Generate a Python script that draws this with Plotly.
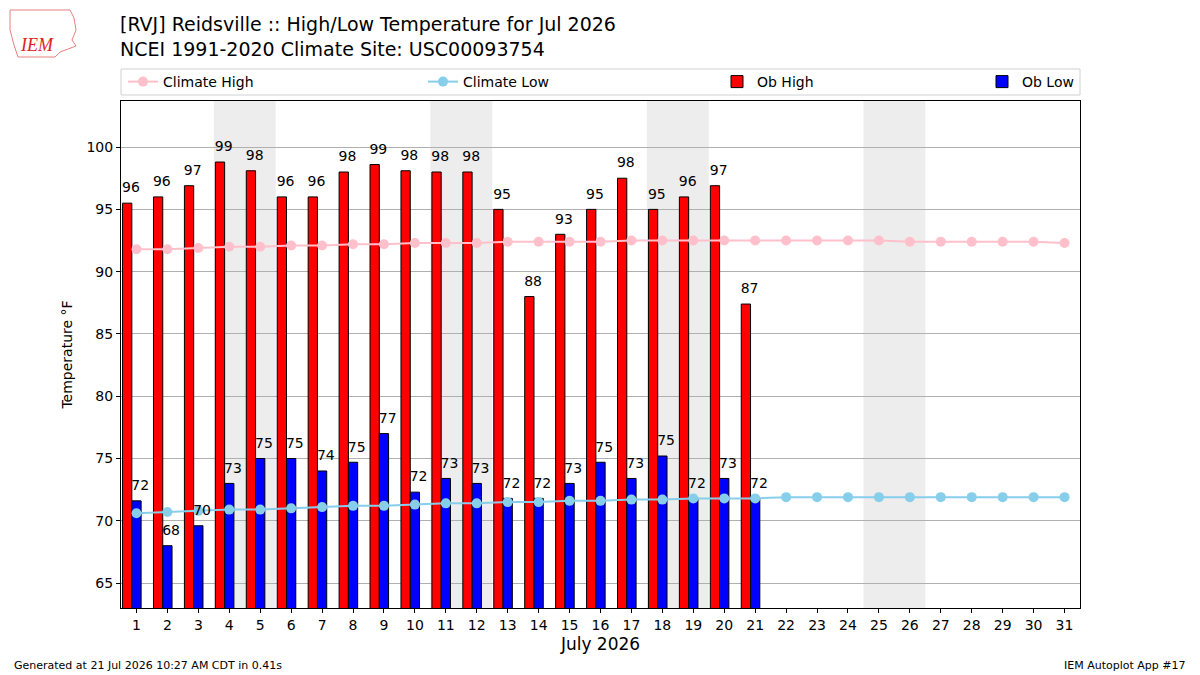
import datetime
import plotly.graph_objects as go

# data
days = list(range(1, 32))
ob_days = list(range(1, 22))
ob_high = [95.5, 96.0, 96.9, 98.8, 98.1, 96.0, 96.0, 98.0, 98.6, 98.1,
           98.0, 98.0, 95.0, 88.0, 93.0, 95.0, 97.5, 95.0, 96.0, 96.9, 87.4]
ob_low = [71.6, 68.0, 69.6, 73.0, 75.0, 75.0, 74.0, 74.7, 77.0, 72.3,
          73.4, 73.0, 71.8, 71.8, 73.0, 74.7, 73.4, 75.2, 71.8, 73.4, 71.8]
clim_high = [91.8, 91.8, 91.9, 92.0, 92.0, 92.1, 92.1, 92.2, 92.2, 92.3,
             92.3, 92.3, 92.4, 92.4, 92.4, 92.4, 92.5, 92.5, 92.5, 92.5,
             92.5, 92.5, 92.5, 92.5, 92.5, 92.4, 92.4, 92.4, 92.4, 92.4, 92.3]
clim_low = [70.6, 70.7, 70.8, 70.9, 70.9, 71.0, 71.1, 71.2, 71.2, 71.3,
            71.4, 71.4, 71.5, 71.5, 71.6, 71.6, 71.7, 71.7, 71.8, 71.8,
            71.8, 71.9, 71.9, 71.9, 71.9, 71.9, 71.9, 71.9, 71.9, 71.9, 71.9]
y_ticks = [65, 70, 75, 80, 85, 90, 95, 100]

FONT = "DejaVu Sans"
W, H = 1200, 675
L, R, T, B = 121, 1080, 101, 608


def px(x):
    return (x - L) / (R - L)


def py(y):
    return (B - y) / (B - T)


fig = go.Figure()

fig.add_trace(go.Bar(x=ob_days, y=ob_high, name="Ob High", offset=-0.45, width=0.3,
                     marker=dict(color="#ff0000", line=dict(color="black", width=1)),
                     legend="legend3"))
fig.add_trace(go.Bar(x=ob_days, y=ob_low, name="Ob Low", offset=-0.15, width=0.3,
                     marker=dict(color="#0000ff", line=dict(color="black", width=1)),
                     legend="legend4"))
fig.add_trace(go.Scatter(x=days, y=clim_high, name="Climate High", mode="lines+markers",
                         line=dict(color="pink", width=2), marker=dict(size=10, color="pink"),
                         legend="legend"))
fig.add_trace(go.Scatter(x=days, y=clim_low, name="Climate Low", mode="lines+markers",
                         line=dict(color="skyblue", width=2), marker=dict(size=10, color="skyblue"),
                         legend="legend2"))

# value labels above the bars (invisible markers push the text up a little)
shift = 0.12
label_font = dict(family=FONT, size=14, color="black")
fig.add_trace(go.Scatter(x=[d - 0.3 + shift for d in ob_days], y=ob_high, mode="markers+text",
                         text=[f"{v:.0f}" for v in ob_high], textposition="top center",
                         marker=dict(size=10, opacity=0), textfont=label_font,
                         showlegend=False, hoverinfo="skip", cliponaxis=False))
fig.add_trace(go.Scatter(x=[d + shift for d in ob_days], y=ob_low, mode="markers+text",
                         text=[f"{v:.0f}" for v in ob_low], textposition="top center",
                         marker=dict(size=10, opacity=0), textfont=label_font,
                         showlegend=False, hoverinfo="skip", cliponaxis=False))

# weekend shading
shapes = []
for d in days:
    if datetime.date(2026, 7, d).weekday() == 5:
        shapes.append(dict(type="rect", xref="x", yref="paper", x0=d - 0.5, x1=d + 1.5,
                           y0=0, y1=1, fillcolor="#ededed", line=dict(width=0), layer="below"))

# legend frame
shapes.append(dict(type="rect", xref="paper", yref="paper", x0=px(121), x1=px(1080),
                   y0=py(95), y1=py(69), line=dict(color="#d0d0d0", width=1)))

# rough IEM logo outline
logo = [(10, 10), (70, 10), (74, 18), (76, 30), (72, 40), (76, 46), (60, 52),
        (55, 57), (18, 57), (14, 45), (10, 30)]
path = "M " + " L ".join(f"{px(x):.4f},{py(y):.4f}" for x, y in logo) + " Z"
shapes.append(dict(type="path", xref="paper", yref="paper", path=path,
                   line=dict(color="#e88080", width=1)))

legend_common = dict(orientation="h", yanchor="middle", y=py(82), xanchor="left",
                     bgcolor="rgba(0,0,0,0)", font=dict(family=FONT, size=14, color="black"),
                     itemwidth=30)

fig.update_layout(
    width=W, height=H,
    margin=dict(l=L, r=W - R, t=T, b=H - B),
    paper_bgcolor="white", plot_bgcolor="white",
    barmode="overlay",
    font=dict(family=FONT, size=14, color="black"),
    title=dict(text="[RVJ] Reidsville :: High/Low Temperature for Jul 2026<br>"
                    "NCEI 1991-2020 Climate Site: USC00093754",
               x=120 / W, xanchor="left", xref="container",
               y=1 - 31 / H, yanchor="top", yref="container",
               font=dict(family=FONT, size=19, color="black")),
    xaxis=dict(range=[0.5, 31.5], tickmode="array", tickvals=days, ticktext=[str(d) for d in days],
               showgrid=False, zeroline=False, ticks="outside", ticklen=4, tickcolor="black",
               showline=True, linecolor="black", linewidth=1, mirror=True,
               title=dict(text="July 2026", font=dict(family=FONT, size=17), standoff=6),
               tickfont=dict(family=FONT, size=14)),
    yaxis=dict(range=[63, 103.7], tickmode="array", tickvals=y_ticks,
               showgrid=True, gridcolor="#b0b0b0", gridwidth=1, zeroline=False,
               ticks="outside", ticklen=4, tickcolor="black",
               showline=True, linecolor="black", linewidth=1, mirror=True,
               title=dict(text="Temperature °F", font=dict(family=FONT, size=14), standoff=10),
               tickfont=dict(family=FONT, size=14)),
    legend=dict(legend_common, x=px(123)),
    legend2=dict(legend_common, x=px(423)),
    legend3=dict(legend_common, x=px(717)),
    legend4=dict(legend_common, x=px(982)),
    shapes=shapes,
    annotations=[
        dict(text="Generated at 21 Jul 2026 10:27 AM CDT in 0.41s", xref="paper", yref="paper",
             x=px(12), y=py(665), xanchor="left", yanchor="middle", showarrow=False,
             font=dict(family=FONT, size=11, color="black")),
        dict(text="IEM Autoplot App #17", xref="paper", yref="paper",
             x=px(1188), y=py(665), xanchor="right", yanchor="middle", showarrow=False,
             font=dict(family=FONT, size=11, color="black")),
        dict(text="<i>IEM</i>", xref="paper", yref="paper", x=px(37), y=py(45),
             xanchor="center", yanchor="middle", showarrow=False,
             font=dict(family="Liberation Serif", size=18, color="#dd2222")),
    ],
)

# the page's default body margin would push the figure off by 8px
fig.write_html("out.html", config={"displayModeBar": False},
               post_script="document.body.style.margin='0';")
